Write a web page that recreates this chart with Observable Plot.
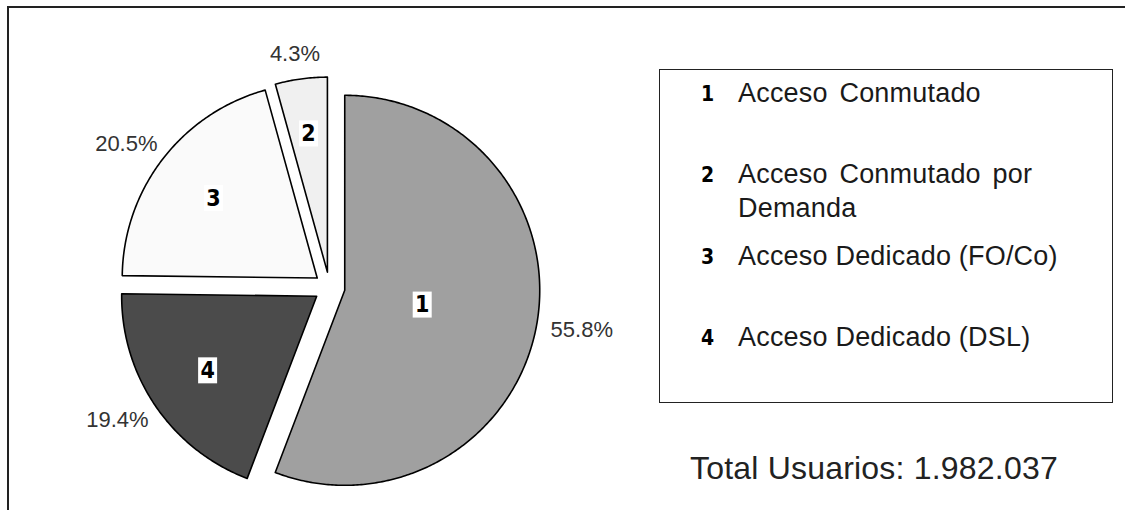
<!DOCTYPE html>
<html>
<head>
<meta charset="utf-8">
<script src="https://cdn.jsdelivr.net/npm/d3@7"></script>
<script src="https://cdn.jsdelivr.net/npm/@observablehq/plot@0.6"></script>
<style>
  body { margin: 0; background: #fff; }
  #page { position: relative; width: 1125px; height: 510px; overflow: hidden; background: #fff;
          font-family: "Liberation Sans", Arial, sans-serif; }
  #frame { position: absolute; left: 7px; top: 6px; right: -4px; bottom: -4px;
           border-top: 2px solid #222; border-left: 2px solid #222; }
  #chart { position: absolute; left: 0; top: 0; }
  #legendBox { position: absolute; left: 659px; top: 69px; width: 452px; height: 332px;
               border: 1.5px solid #222; }
  .lrow { position: absolute; font-size: 27px; line-height: 34px; color: #1a1a1a; }
  .ldig { position: absolute; font-family: "DejaVu Sans Condensed", "DejaVu Sans", sans-serif;
          font-stretch: condensed; font-weight: bold; font-size: 21px; color: #000; }
  .ltxt { position: absolute; width: 370px; letter-spacing: 0.2px; }
  #total { position: absolute; left: 690px; top: 448px; font-size: 32px; line-height: 40px;
           color: #222; white-space: nowrap; letter-spacing: 0.2px; }
</style>
</head>
<body>
<div id="page">
  <div id="frame"></div>
  <div id="chart"></div>
  <div id="legendBox"></div>
  <div id="legendRows"></div>
  <div id="total"></div>
</div>
<script>
// ---- data ----
const sliceIds = ["1", "2", "3", "4"];
const sliceNames = ["Acceso Conmutado", "Acceso Conmutado por Demanda", "Acceso Dedicado (FO/Co)", "Acceso Dedicado (DSL)"];
const sliceShares = [55.8, 4.3, 20.5, 19.4];
const pieOrder = ["1", "4", "3", "2"]; // clockwise from 12 o'clock
const totalLabel = "Total Usuarios: ";
const totalUsers = "1.982.037";

// ---- styles ----
const sliceFills = ["#a0a0a0", "#f0f0f0", "#fafafa", "#4b4b4b"];

// ---- layout (pixels) ----
const W = 650, H = 510, CX = 329, CY = 287, R = 195;
const explode = 15.5 / R;
const gap = 16 / R, halfW = 30 / R, halfH = 9 / R;

const byId = new Map(sliceIds.map((id, i) => [id, {id, name: sliceNames[i], share: sliceShares[i]}]));
const ordered = pieOrder.map(id => byId.get(id));
const arcs = d3.pie().sort(null).value(d => d.share)(ordered);

const polyPts = [], numLabels = [], pctLabels = [];
for (const a of arcs) {
  const id = a.data.id;
  const mid = (a.startAngle + a.endAngle) / 2;
  const ux = Math.sin(mid), uy = Math.cos(mid);
  const ax = explode * ux, ay = explode * uy;
  polyPts.push({id, x: ax, y: ay});
  const n = Math.max(8, Math.ceil((a.endAngle - a.startAngle) / 0.01));
  for (let k = 0; k <= n; k++) {
    const t = a.startAngle + (a.endAngle - a.startAngle) * k / n;
    polyPts.push({id, x: ax + Math.sin(t), y: ay + Math.cos(t)});
  }
  const half = (a.endAngle - a.startAngle) / 2;
  const c = 1.08 * 2 * Math.sin(half) / (3 * half);
  numLabels.push({id, x: ax + c * ux, y: ay + c * uy});
  pctLabels.push({
    text: d3.format(".1f")(a.data.share) + "%",
    x: ax + ux * (1 + gap) + ux * halfW,
    y: ay + uy * (1 + gap) + uy * halfH
  });
}

const boxSymbol = {
  draw(context) { context.rect(-9.5, -13, 19, 26); }
};

const chart = Plot.plot({
  width: W, height: H, margin: 0,
  x: {domain: [-CX / R, (W - CX) / R], axis: null},
  y: {domain: [-(H - CY) / R, CY / R], axis: null},
  color: {type: "ordinal", domain: sliceIds, range: sliceFills},
  style: {fontFamily: "'Liberation Sans', Arial, sans-serif", background: "transparent"},
  marks: [
    Plot.line(polyPts, {x: "x", y: "y", z: "id", fill: "id", stroke: "#000", strokeWidth: 1.6,
                        strokeLinejoin: "round", curve: "linear-closed"}),
    Plot.dot(numLabels, {x: "x", y: "y", symbol: boxSymbol, r: 5, fill: "#fff", stroke: null}),
    Plot.text(numLabels, {x: "x", y: "y", text: "id", fontSize: 23, fontWeight: "bold",
                          fontFamily: "'DejaVu Sans Condensed', 'DejaVu Sans', sans-serif", fill: "#000"}),
    Plot.text(pctLabels, {x: "x", y: "y", text: "text", fontSize: 22, fill: "#333"})
  ]
});
document.getElementById("chart").appendChild(chart);

// ---- legend ----
const rows = document.getElementById("legendRows");
const firstTop = 76, rowStep = 81.3;
sliceIds.forEach((id, i) => {
  const top = firstTop + i * rowStep;
  const dig = document.createElement("div");
  dig.className = "lrow ldig";
  dig.style.left = "701px"; dig.style.top = (top + 1) + "px";
  dig.textContent = id;
  const txt = document.createElement("div");
  txt.className = "lrow ltxt";
  txt.style.left = "738px"; txt.style.top = top + "px";
  if (i < 2) txt.style.wordSpacing = "4px";
  txt.textContent = sliceNames[i];
  rows.appendChild(dig); rows.appendChild(txt);
});
document.getElementById("total").textContent = totalLabel + totalUsers;
</script>
</body>
</html>
